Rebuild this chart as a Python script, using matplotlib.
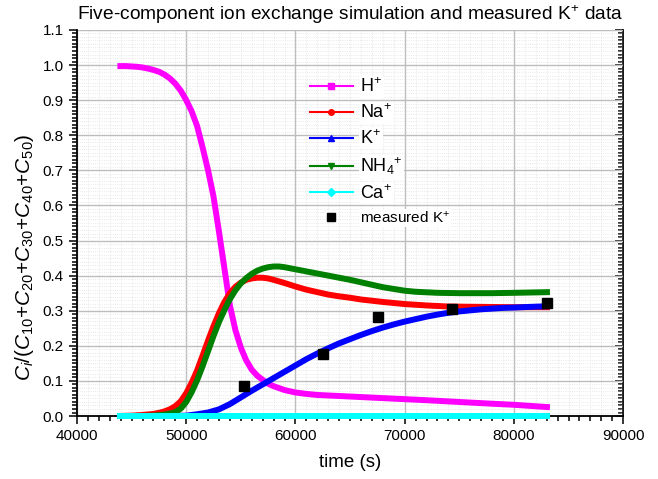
import numpy as np
import matplotlib
matplotlib.use("Agg")
from matplotlib import pyplot as plt
from matplotlib.lines import Line2D
from matplotlib.ticker import MultipleLocator

plt.rcParams['font.family'] = ['Liberation Sans', 'DejaVu Sans']
plt.rcParams['mathtext.fontset'] = 'custom'
plt.rcParams['mathtext.rm'] = 'Liberation Sans'
plt.rcParams['mathtext.it'] = 'Liberation Sans:italic'

# simulated breakthrough curves
t_h = [43700, 44500, 45500, 46000, 46500, 47000, 47500, 48000, 48500, 49000, 49500,
       50000, 50500, 51000, 51500, 52000, 52500, 53000, 53500, 54000, 54500, 55000,
       55500, 56000, 56500, 57000, 57500, 58000, 59000, 60000, 61000, 62000, 64000,
       66000, 68000, 70000, 72000, 75000, 78000, 80000, 83300]
h = [0.997, 0.997, 0.995, 0.993, 0.990, 0.986, 0.981, 0.973, 0.962, 0.947, 0.927,
     0.900, 0.868, 0.826, 0.765, 0.700, 0.625, 0.525, 0.420, 0.315, 0.245, 0.195,
     0.158, 0.132, 0.115, 0.103, 0.092, 0.085, 0.074, 0.067, 0.063, 0.060, 0.057,
     0.054, 0.051, 0.048, 0.045, 0.040, 0.035, 0.032, 0.025]

t_na = [43700, 45000, 46000, 47000, 47500, 48000, 48500, 49000, 49500, 50000, 50500,
        51000, 51500, 52000, 52500, 53000, 53500, 54000, 54500, 55000, 55500, 56000,
        56500, 57000, 57500, 58000, 59000, 60000, 61000, 62000, 63000, 64000, 65000,
        66000, 68000, 70000, 72000, 74000, 77000, 80000, 83300]
na = [0.0, 0.001, 0.003, 0.006, 0.009, 0.013, 0.019, 0.028, 0.042, 0.065, 0.095,
      0.130, 0.172, 0.215, 0.256, 0.293, 0.325, 0.350, 0.368, 0.380, 0.388, 0.392,
      0.394, 0.394, 0.392, 0.388, 0.379, 0.369, 0.360, 0.353, 0.346, 0.341, 0.337,
      0.332, 0.325, 0.319, 0.315, 0.312, 0.311, 0.310, 0.310]

t_k = [43700, 48000, 50000, 51000, 52000, 53000, 54000, 55000, 56000, 57000, 58000,
       59000, 60000, 61000, 62000, 63000, 64000, 65000, 66000, 67000, 68000, 69000,
       70000, 71000, 72000, 73000, 74000, 75000, 76000, 77000, 78000, 79000, 80000,
       81500, 83300]
k = [0.0, 0.0, 0.001, 0.005, 0.010, 0.019, 0.034, 0.053, 0.072, 0.090, 0.108,
     0.126, 0.144, 0.162, 0.178, 0.193, 0.207, 0.219, 0.231, 0.242, 0.252, 0.261,
     0.269, 0.276, 0.283, 0.289, 0.294, 0.298, 0.301, 0.304, 0.306, 0.308, 0.309,
     0.311, 0.313]

t_nh4 = [43700, 46000, 47000, 48000, 48500, 49000, 49500, 50000, 50500, 51000, 51500,
         52000, 52500, 53000, 53500, 54000, 54500, 55000, 55500, 56000, 56500, 57000,
         57500, 58000, 58500, 59000, 60000, 61000, 62000, 63000, 64000, 65000, 66000,
         67000, 68000, 69000, 70000, 71000, 73000, 75000, 78000, 80000, 83300]
nh4 = [0.0, 0.0, 0.001, 0.004, 0.007, 0.011, 0.021, 0.040, 0.068, 0.102, 0.142,
       0.185, 0.228, 0.268, 0.302, 0.333, 0.358, 0.378, 0.393, 0.405, 0.414, 0.420,
       0.424, 0.426, 0.426, 0.424, 0.418, 0.412, 0.406, 0.400, 0.394, 0.388, 0.381,
       0.374, 0.367, 0.362, 0.357, 0.354, 0.351, 0.350, 0.350, 0.351, 0.353]

t_ca = [43700, 83300]
ca = [0.0, 0.0]

# measured K+
t_meas = [55300, 62500, 67600, 74300, 83000]
k_meas = [0.085, 0.176, 0.282, 0.304, 0.321]

fig = plt.figure(figsize=(6.58, 4.79), dpi=100)
ax = fig.add_axes([0.117, 0.1315, 0.83, 0.806])

lw = 4.3
ax.plot(t_h, h, color='#ff00ff', lw=lw, solid_capstyle='butt')
ax.plot(t_na, na, color='#ff0000', lw=lw, solid_capstyle='butt')
ax.plot(t_k, k, color='#0000ff', lw=lw, solid_capstyle='butt')
ax.plot(t_nh4, nh4, color='#008000', lw=lw, solid_capstyle='butt')
ax.plot(t_ca, ca, color='#00ffff', lw=lw, solid_capstyle='butt', clip_on=False, zorder=3)
ax.plot(t_meas, k_meas, 's', color='black', ms=7, zorder=5)

ax.set_xlim(40000, 90000)
ax.set_ylim(0, 1.1)
ax.xaxis.set_major_locator(MultipleLocator(10000))
ax.xaxis.set_minor_locator(MultipleLocator(1000))
ax.yaxis.set_minor_locator(MultipleLocator(0.01))
ax.set_yticks(np.arange(0, 1.11, 0.1))
ax.set_yticklabels(['%.1f' % v for v in np.arange(0, 1.11, 0.1)])

ax.grid(True, which='major', color='#bdbdbd', lw=1.0)
ax.grid(True, which='minor', color='#e2e2e2', lw=0.6, ls=':')
ax.set_axisbelow(True)

ax.spines['top'].set_visible(False)
ax.spines['right'].set_visible(False)
for s in ['left', 'bottom']:
    ax.spines[s].set_linewidth(1.3)
ax.tick_params(which='both', direction='out', labelsize=11, width=1.1)
ax.tick_params(which='major', length=6)
ax.tick_params(which='minor', length=3.5)

# right axis: ticks only, pointing inward
sec = ax.secondary_yaxis('right')
sec.set_yticks(np.arange(0, 1.11, 0.1))
sec.yaxis.set_minor_locator(MultipleLocator(0.01))
sec.tick_params(which='both', direction='in', labelright=False, width=1.1)
sec.tick_params(which='major', length=6)
sec.tick_params(which='minor', length=3.5)
sec.spines['right'].set_linewidth(1.3)

ax.set_xlabel('time (s)', fontsize=13.5, labelpad=8)
ax.set_ylabel(r'$\mathit{C}_{i}$/($\mathit{C}_{10}$+$\mathit{C}_{20}$+$\mathit{C}_{30}$'
              r'+$\mathit{C}_{40}$+$\mathit{C}_{50}$)', fontsize=15)
ax.yaxis.set_label_coords(-0.075, 0.41)
ax.set_title('Five-component ion exchange simulation and measured K$^{+}$ data',
             fontsize=13.8, pad=7)

handles = [
    Line2D([], [], color='#ff00ff', lw=1.5, marker='s', ms=4),
    Line2D([], [], color='#ff0000', lw=1.5, marker='o', ms=4),
    Line2D([], [], color='#0000ff', lw=1.5, marker='^', ms=4),
    Line2D([], [], color='#008000', lw=1.5, marker='v', ms=4),
    Line2D([], [], color='#00ffff', lw=1.5, marker='D', ms=4),
    Line2D([], [], color='black', lw=0, marker='s', ms=6),
]
labels = ['H$^{+}$', 'Na$^{+}$', 'K$^{+}$', 'NH$_{4}$$^{+}$', 'Ca$^{+}$', 'measured K$^{+}$']
leg = ax.legend(handles, labels, loc='upper left', bbox_to_anchor=(0.426, 0.877),
                frameon=False, fontsize=13, handlelength=2.4, handletextpad=0.4,
                labelspacing=0.4, borderpad=0, borderaxespad=0)
for txt in leg.get_texts():
    txt.set_bbox(dict(facecolor='white', edgecolor='none', pad=1))
leg.get_texts()[5].set_fontsize(11)

plt.savefig("out.png", dpi=100)
